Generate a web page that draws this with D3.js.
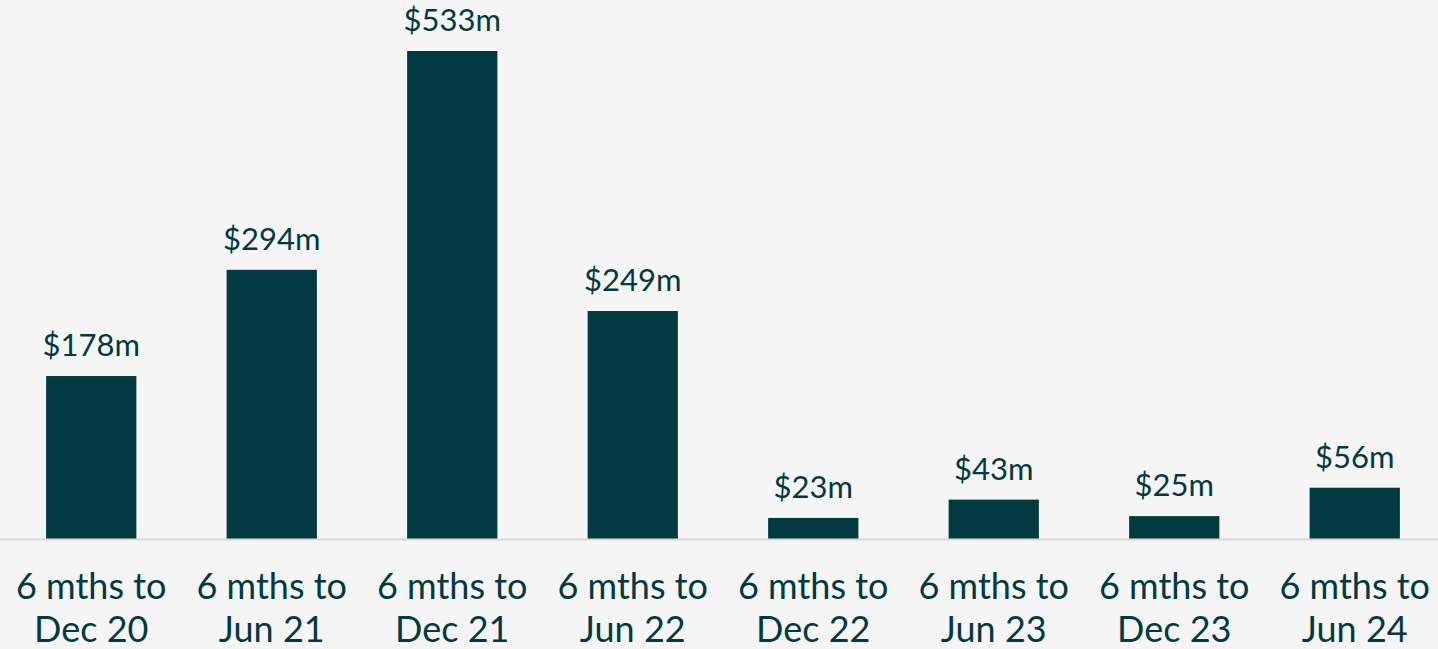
<!DOCTYPE html>
<html><head><meta charset="utf-8">
<script src="https://cdn.jsdelivr.net/npm/d3@7"></script>
<style>html,body{margin:0;padding:0;background:#f5f5f5;overflow:hidden}</style>
</head><body>
<svg id="chart" width="1438" height="649"></svg>
<script>
const periodLine1 = ["6 mths to","6 mths to","6 mths to","6 mths to","6 mths to","6 mths to","6 mths to","6 mths to"];
const periodLine2 = ["Dec 20","Jun 21","Dec 21","Jun 22","Dec 22","Jun 23","Dec 23","Jun 24"];
const values = [178, 294, 533, 249, 23, 43, 25, 56];
const valueLabels = ["$178m","$294m","$533m","$249m","$23m","$43m","$25m","$56m"];

const W = 1438, H = 649;
const color = "#013a41";
const svg = d3.select("#chart");
svg.append("rect").attr("width", W).attr("height", H).attr("fill", "#f5f5f5");

const keys = periodLine2;
const x = d3.scaleBand().domain(keys).range([1, 1445]).paddingInner(0.5).paddingOuter(0.25);
const y = d3.scaleLinear().domain([0, 533]).range([539, 51]);

svg.selectAll("rect.bar").data(values).join("rect")
  .attr("class", "bar")
  .attr("x", (d, i) => x(keys[i]))
  .attr("width", x.bandwidth())
  .attr("y", d => y(d))
  .attr("height", d => y(0) - y(d))
  .attr("fill", color);

svg.append("line").attr("x1", 0).attr("x2", W).attr("y1", y(0) + 0.5).attr("y2", y(0) + 0.5)
  .attr("stroke", "#d9d9d9").attr("stroke-width", 2);

svg.selectAll("text.val").data(values).join("text")
  .attr("class", "val")
  .attr("x", (d, i) => x(keys[i]) + x.bandwidth() / 2)
  .attr("y", d => y(d) - 20)
  .attr("text-anchor", "middle")
  .attr("font-family", "Lato, sans-serif")
  .attr("font-size", 31)
  .attr("fill", color)
  .text((d, i) => valueLabels[i]);

const cat = svg.selectAll("text.cat").data(keys).join("text")
  .attr("class", "cat")
  .attr("text-anchor", "middle")
  .attr("font-family", "Lato, sans-serif")
  .attr("font-size", 36)
  .attr("fill", color);
cat.append("tspan").attr("x", d => x(d) + x.bandwidth() / 2).attr("y", 599).text((d, i) => periodLine1[i]);
cat.append("tspan").attr("x", d => x(d) + x.bandwidth() / 2).attr("y", 642).text(d => d);
</script>
</body></html>
